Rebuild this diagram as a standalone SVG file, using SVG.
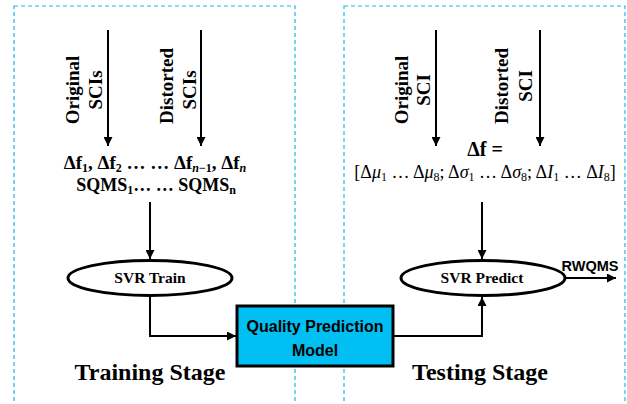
<svg xmlns="http://www.w3.org/2000/svg" width="627" height="404" viewBox="0 0 627 404">
<style>
.stage{fill:none;stroke:#1cb5e8;stroke-width:1.2;stroke-dasharray:4 3}
.conn{fill:none;stroke:#000;stroke-width:2}
.ell{fill:#fff;stroke:#000;stroke-width:3}
.tb{font-family:"Liberation Serif",serif;font-weight:bold;fill:#000}
.math{font-family:"Liberation Serif","DejaVu Serif",serif;fill:#000}
.cal{font-family:"Liberation Sans",Arial,sans-serif;font-weight:bold;fill:#000}
</style>
<defs>
<marker id="ah" viewBox="0 0 10 10" refX="10" refY="5" markerWidth="9" markerHeight="9" markerUnits="userSpaceOnUse" orient="auto">
<path d="M0,0 L10,5 L0,10 z" fill="#000"/>
</marker>
</defs>
<rect class="stage" x="14" y="6" width="281" height="410"/>
<rect class="stage" x="344" y="6" width="281" height="410"/>
<g id="connectors">
<line class="conn" x1="108" y1="30" x2="108" y2="146" marker-end="url(#ah)"/>
<line class="conn" x1="201" y1="30" x2="201" y2="146" marker-end="url(#ah)"/>
<line class="conn" x1="436" y1="30" x2="436" y2="146" marker-end="url(#ah)"/>
<line class="conn" x1="540" y1="30" x2="540" y2="146" marker-end="url(#ah)"/>
<line class="conn" x1="150" y1="202" x2="150" y2="259" marker-end="url(#ah)"/>
<line class="conn" x1="482" y1="202" x2="482" y2="259" marker-end="url(#ah)"/>
<polyline class="conn" points="150,296 150,336 236,336" marker-end="url(#ah)"/>
<polyline class="conn" points="393,336 482,336 482,297" marker-end="url(#ah)"/>
<line class="conn" x1="566" y1="278" x2="616" y2="278" marker-end="url(#ah)"/>
</g>
<g id="label-original-train">
<text class="tb" font-size="19" transform="translate(79,90) rotate(-90)" text-anchor="middle">Original</text>
<text class="tb" font-size="19" transform="translate(102,90) rotate(-90)" text-anchor="middle">SCIs</text>
</g>
<g id="label-distorted-train">
<text class="tb" font-size="19" transform="translate(173,86) rotate(-90)" text-anchor="middle">Distorted</text>
<text class="tb" font-size="19" transform="translate(196,90) rotate(-90)" text-anchor="middle">SCIs</text>
</g>
<g id="label-original-test">
<text class="tb" font-size="19" transform="translate(408,90) rotate(-90)" text-anchor="middle">Original</text>
<text class="tb" font-size="19" transform="translate(430,90) rotate(-90)" text-anchor="middle">SCI</text>
</g>
<g id="label-distorted-test">
<text class="tb" font-size="19" transform="translate(508,86) rotate(-90)" text-anchor="middle">Distorted</text>
<text class="tb" font-size="19" transform="translate(532,86) rotate(-90)" text-anchor="middle">SCI</text>
</g>
<g id="features-train">
<text class="math" font-weight="bold" font-size="19" x="155" y="169" text-anchor="middle">Δf<tspan font-size="12" dy="3">1</tspan><tspan dy="-3">, Δf</tspan><tspan font-size="12" dy="3">2</tspan><tspan dy="-3"> … … Δf</tspan><tspan font-size="12" dy="3" font-style="italic">n</tspan><tspan font-size="12">−1</tspan><tspan dy="-3">, Δf</tspan><tspan font-size="12" dy="3" font-style="italic">n</tspan></text>
<text class="tb" font-size="18" x="156" y="191" text-anchor="middle">SQMS<tspan font-size="12" dy="3">1</tspan><tspan dy="-3">… … SQMS</tspan><tspan font-size="12" dy="3">n</tspan></text>
</g>
<g id="features-test">
<text class="math" font-weight="bold" font-size="20" x="485" y="156" text-anchor="middle">Δf =</text>
<text class="math" font-size="18" x="485" y="178" text-anchor="middle">[Δ<tspan font-style="italic">μ</tspan><tspan font-size="12" dy="3">1</tspan><tspan dy="-3"> … Δ</tspan><tspan font-style="italic">μ</tspan><tspan font-size="12" dy="3">8</tspan><tspan dy="-3">; Δ</tspan><tspan font-style="italic">σ</tspan><tspan font-size="12" dy="3">1</tspan><tspan dy="-3"> … Δ</tspan><tspan font-style="italic">σ</tspan><tspan font-size="12" dy="3">8</tspan><tspan dy="-3">; Δ</tspan><tspan font-style="italic">I</tspan><tspan font-size="12" dy="3">1</tspan><tspan dy="-3"> … Δ</tspan><tspan font-style="italic">I</tspan><tspan font-size="12" dy="3">8</tspan><tspan dy="-3">]</tspan></text>
</g>
<g id="svr-train">
<ellipse class="ell" cx="150" cy="278" rx="82" ry="17.5"/>
<text class="tb" font-size="15.5" x="150" y="283" text-anchor="middle">SVR Train</text>
</g>
<g id="svr-predict">
<ellipse class="ell" cx="483" cy="278" rx="82" ry="17.5"/>
<text class="tb" font-size="15.5" x="482" y="283" text-anchor="middle">SVR Predict</text>
</g>
<g id="model">
<rect x="237" y="306" width="156" height="60" fill="#00bff3" stroke="#000" stroke-width="3"/>
<text class="cal" font-size="16" x="315" y="332" text-anchor="middle">Quality Prediction</text>
<text class="cal" font-size="16" x="315" y="356" text-anchor="middle">Model</text>
</g>
<g id="rwqms">
<text class="cal" font-size="14.5" x="590" y="271" text-anchor="middle">RWQMS</text>
</g>
<g id="training-stage">
<text class="tb" font-size="24" x="150" y="380" text-anchor="middle">Training Stage</text>
</g>
<g id="testing-stage">
<text class="tb" font-size="24" x="480" y="380" text-anchor="middle">Testing Stage</text>
</g>
</svg>
